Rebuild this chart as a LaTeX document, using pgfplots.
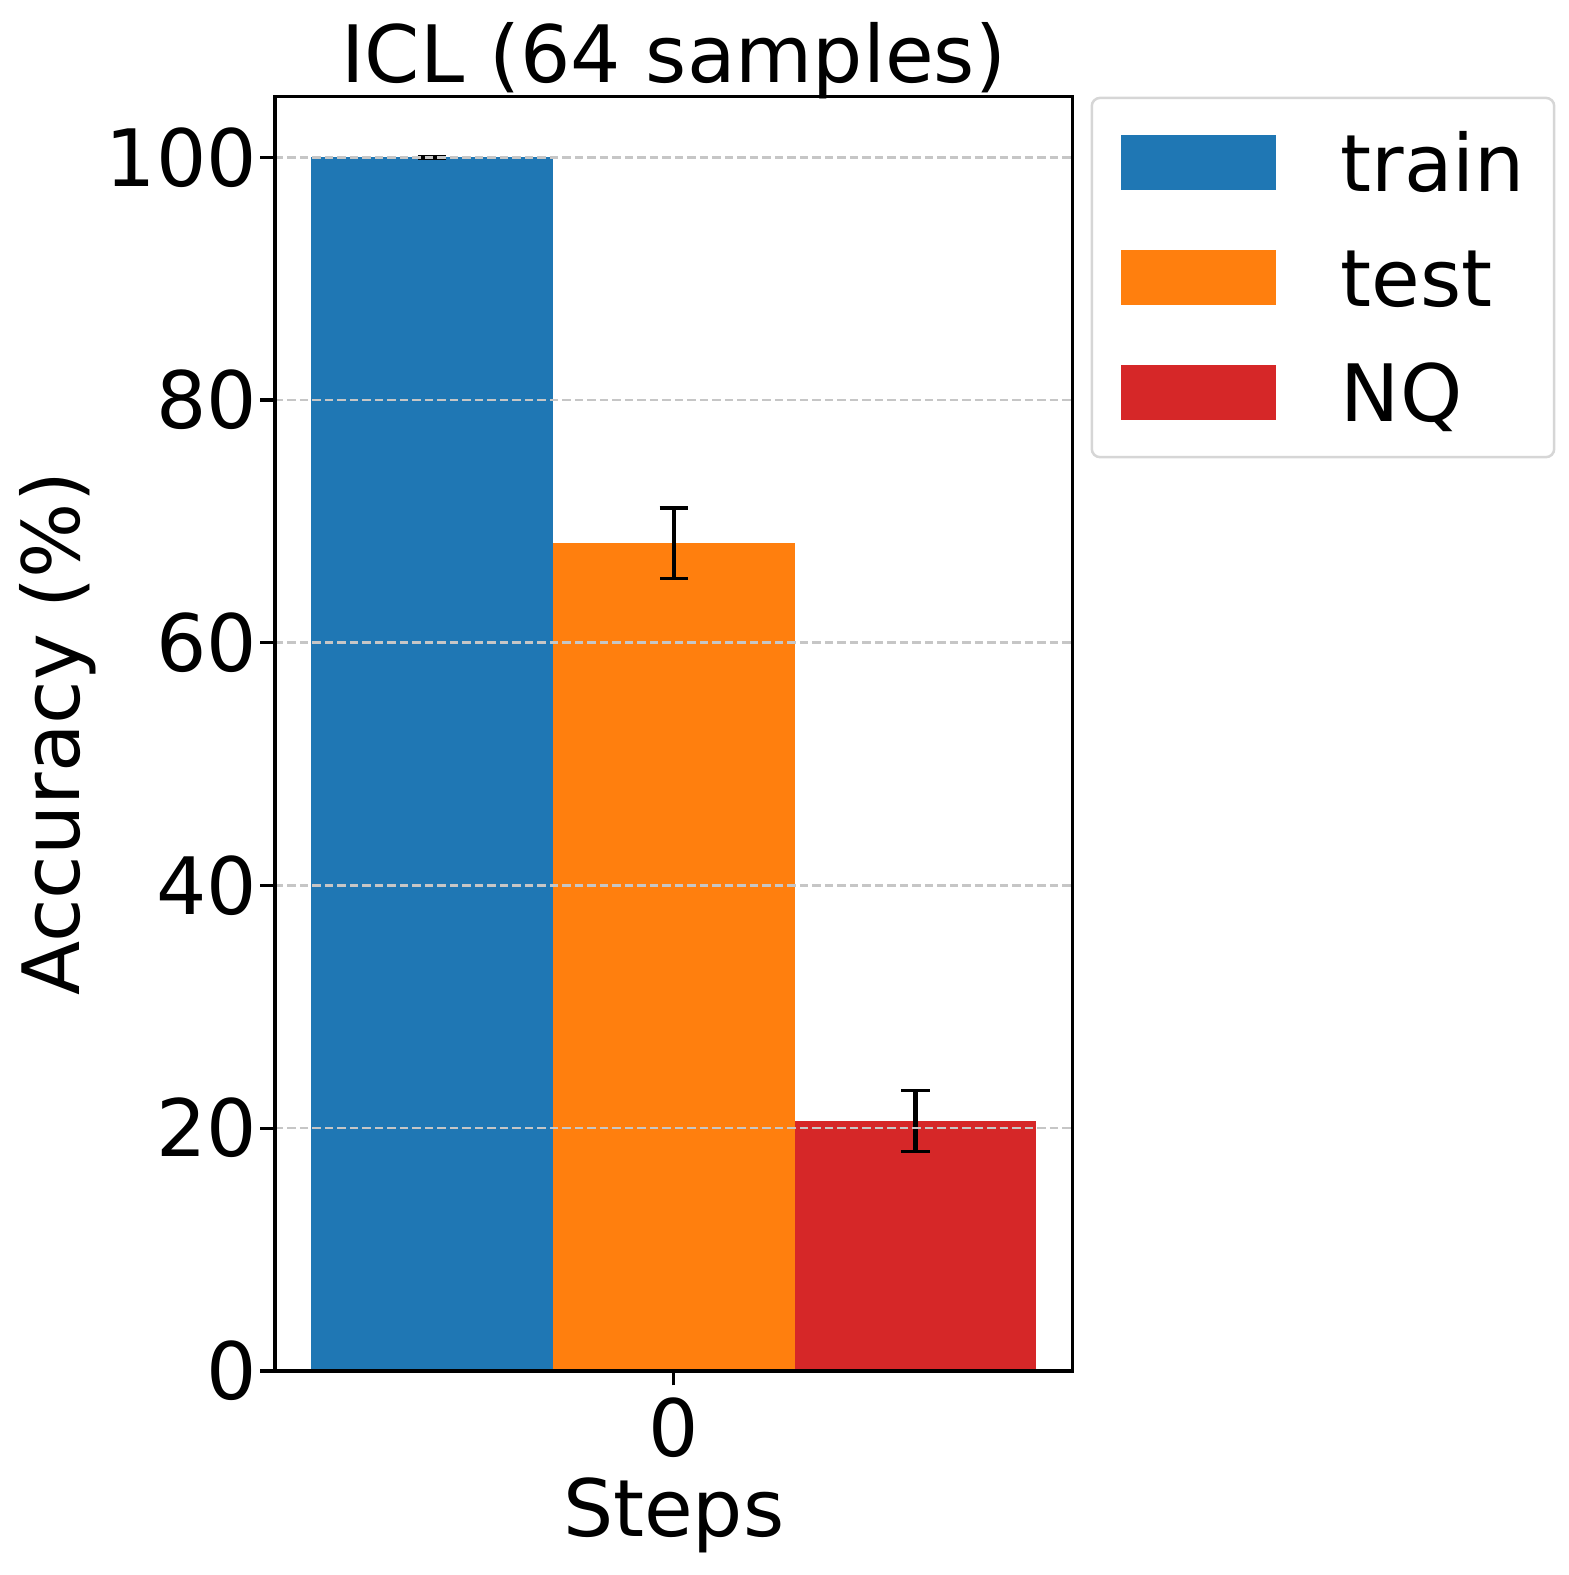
\documentclass[border=0pt]{standalone}
\usepackage{fontspec}
\setmainfont{DejaVu Sans}
\usepackage{pgfplots}
\pgfplotsset{compat=1.18}

\definecolor{cTrain}{HTML}{1F77B4}
\definecolor{cTest}{HTML}{FF7F0E}
\definecolor{cNQ}{HTML}{D62728}

\newcommand{\figfont}{\fontsize{19}{22.8}\selectfont}

\begin{document}
\begin{tikzpicture}
\begin{axis}[
    scale only axis,
    width=191.5pt, height=305.9pt,
    xmin=-0.44, xmax=0.44,
    ymin=0, ymax=105,
    xtick={0}, ytick={0,20,40,60,80,100},
    tick align=outside, tick pos=left,
    major tick length=3.5pt,
    every tick/.style={black, line width=0.8pt},
    axis line style={line width=0.8pt},
    ymajorgrids,
    grid style={gray!45, line width=0.6pt, dash pattern=on 2pt off 1pt},
    axis on top,
    font=\figfont,
    /pgf/number format/assume math mode=true,
    yticklabel style={inner xsep=0pt, xshift=-0.6pt},
    xticklabel style={inner ysep=0pt, yshift=-2.7pt},
    title={ICL (64 samples)},
    every axis title shift=0pt,
    title style={at={([yshift=3.4pt]axis description cs:0.5,1)}, anchor=base},
    xlabel={Steps},
    xlabel style={at={([yshift=-39.8pt]axis description cs:0.5,0)}, anchor=base},
    ylabel={Accuracy (\%)},
    ylabel style={at={([xshift=-46.8pt]axis description cs:0,0.5)}, anchor=base},
    legend style={
        at={(axis description cs:1,1)}, anchor=north west, xshift=4.3pt,
        draw=black!16, line width=0.6pt, rounded corners=2pt,
        inner xsep=7pt, inner ysep=8.6pt,
        row sep=13.75pt,
        font=\figfont,
        nodes={inner sep=0pt, text height=13.85pt, text depth=0pt},
        /tikz/every odd column/.append style={column sep=15.6pt},
    },
    legend cell align=left,
    error bars/error bar style={black, line width=1pt},
    error bars/error mark options={black, rotate=90, mark size=3.4pt, line width=0.8pt},
]
\addplot[ybar, bar width=0.26667, bar shift=0pt, fill=cTrain, draw=none,
    legend image code/.code={\fill[cTrain, sharp corners] (0pt,-6.5pt) rectangle (37.2pt,6.5pt);},
    error bars/.cd, y dir=both, y explicit]
    coordinates {(-0.26667,100) +- (0,0.05)};
\addlegendentry{train}
\addplot[ybar, bar width=0.26667, bar shift=0pt, fill=cTest, draw=none,
    legend image code/.code={\fill[cTest, sharp corners] (0pt,-6.5pt) rectangle (37.2pt,6.5pt);},
    error bars/.cd, y dir=both, y explicit]
    coordinates {(0,68.2) +- (0,2.9)};
\addlegendentry{test}
\addplot[ybar, bar width=0.26667, bar shift=0pt, fill=cNQ, draw=none,
    legend image code/.code={\fill[cNQ, sharp corners] (0pt,-6.5pt) rectangle (37.2pt,6.5pt);},
    error bars/.cd, y dir=both, y explicit]
    coordinates {(0.26667,20.6) +- (0,2.5)};
\addlegendentry{NQ}
\end{axis}
\pgfresetboundingbox
\path ([shift={(-66pt,-49pt)}]current axis.south west) rectangle ([shift={(310.6pt,23.2pt)}]current axis.north west);
\end{tikzpicture}
\end{document}
